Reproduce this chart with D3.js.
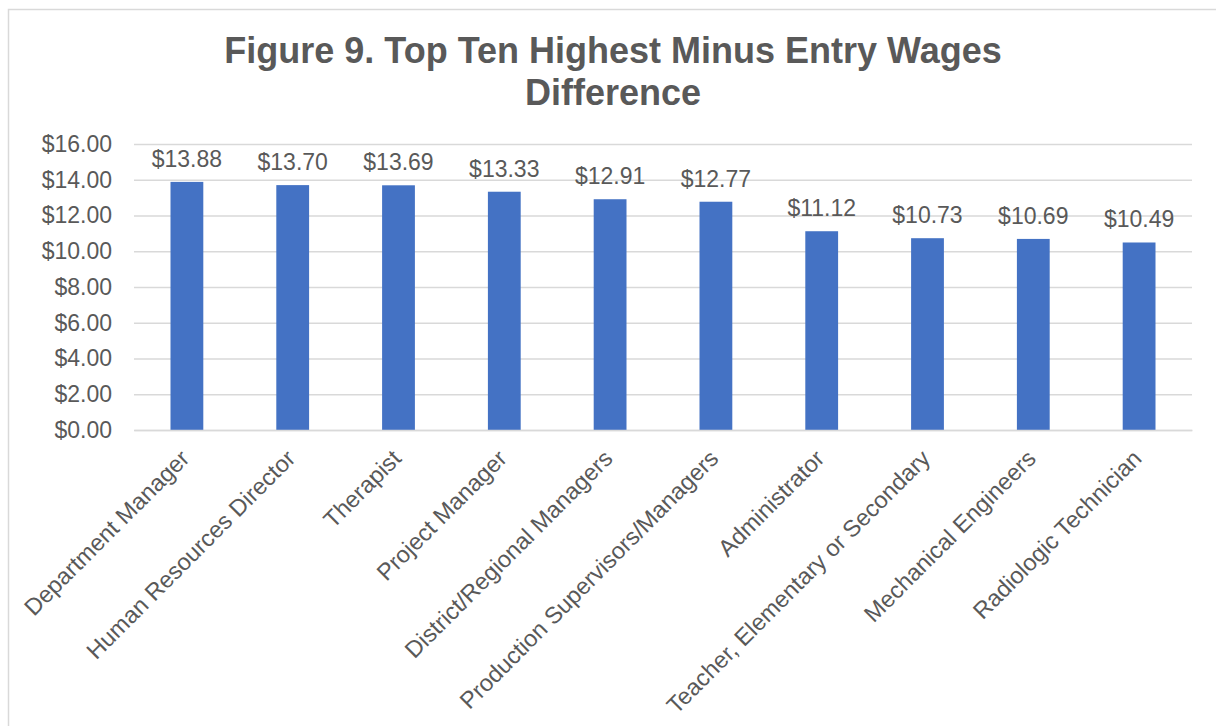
<!DOCTYPE html>
<html>
<head>
<meta charset="utf-8">
<script src="https://cdn.jsdelivr.net/npm/d3@7"></script>
<style>
  body { margin: 0; background: #fff; }
  text { font-family: "Liberation Sans", Arial, sans-serif; fill: #595959; }
</style>
</head>
<body>
<div id="chart"></div>
<script>
// data
var categories = ["Department Manager", "Human Resources Director", "Therapist", "Project Manager",
  "District/Regional Managers", "Production Supervisors/Managers", "Administrator",
  "Teacher, Elementary or Secondary", "Mechanical Engineers", "Radiologic Technician"];
var values = [13.88, 13.70, 13.69, 13.33, 12.91, 12.77, 11.12, 10.73, 10.69, 10.49];
var yTicks = [0, 2, 4, 6, 8, 10, 12, 14, 16];

var W = 1216, H = 726;
var margin = {top: 144, right: 24, bottom: 296, left: 134};
var width = W - margin.left - margin.right,
    height = H - margin.top - margin.bottom;

var svg = d3.select("#chart").append("svg")
    .attr("width", W)
    .attr("height", H);

// chart border
svg.append("rect")
    .attr("x", 8.5).attr("y", 9.5)
    .attr("width", W + 10).attr("height", H + 10)
    .attr("fill", "none")
    .attr("stroke", "#d9d9d9")
    .attr("stroke-width", 1.5);

var title = svg.append("text")
    .style("text-anchor", "middle")
    .attr("font-size", "36px")
    .attr("font-weight", "bold");
title.append("tspan").attr("x", 613).attr("y", 63).text("Figure 9. Top Ten Highest Minus Entry Wages");
title.append("tspan").attr("x", 613).attr("y", 105).text("Difference");

var g = svg.append("g")
    .attr("transform", "translate(" + margin.left + "," + margin.top + ")");

var x = d3.scaleBand()
    .domain(categories)
    .range([0, width])
    .paddingInner(0.69)
    .paddingOuter(0.345);

var y = d3.scaleLinear()
    .domain([0, 16])
    .range([height, 0]);

var fmt = function(d) { return "$" + d3.format(".2f")(d); };

// gridlines + y labels
var yaxis = d3.axisLeft(y).tickValues(yTicks).tickSize(-width).tickPadding(22).tickFormat(fmt);
g.append("g").attr("class", "yaxis").call(yaxis);
g.select(".yaxis .domain").remove();
g.selectAll(".yaxis .tick line").attr("stroke", "#d9d9d9").attr("stroke-width", 1.5);
g.selectAll(".yaxis .tick text")
    .attr("font-size", "23px")
    .attr("font-family", "Liberation Sans, Arial, sans-serif")
    .attr("fill", "#595959");

// bars
g.append("g").attr("class", "bars").selectAll("rect")
    .data(values)
  .enter().append("rect")
    .attr("x", function(d, i) { return x(categories[i]); })
    .attr("y", function(d) { return y(d); })
    .attr("width", x.bandwidth())
    .attr("height", function(d) { return height - y(d); })
    .attr("fill", "#4472c4");

// value labels
g.append("g").attr("class", "labels").selectAll("text")
    .data(values)
  .enter().append("text")
    .attr("x", function(d, i) { return x(categories[i]) + x.bandwidth() / 2; })
    .attr("y", function(d) { return y(d) - 15; })
    .style("text-anchor", "middle")
    .attr("font-size", "23px")
    .text(fmt);

// x axis labels rotated
var xaxis = d3.axisBottom(x).tickSize(0).tickPadding(0);
g.append("g").attr("class", "xaxis")
    .attr("transform", "translate(0," + height + ")")
    .call(xaxis);
g.select(".xaxis .domain").attr("stroke", "#d9d9d9").attr("stroke-width", 1.5);
g.selectAll(".xaxis .tick text")
    .attr("font-size", "23.5px")
    .attr("font-family", "Liberation Sans, Arial, sans-serif")
    .attr("fill", "#595959")
    .attr("dy", null)
    .attr("y", 0)
    .attr("transform", "translate(4,30) rotate(-45)")
    .style("text-anchor", "end");
</script>
</body>
</html>
